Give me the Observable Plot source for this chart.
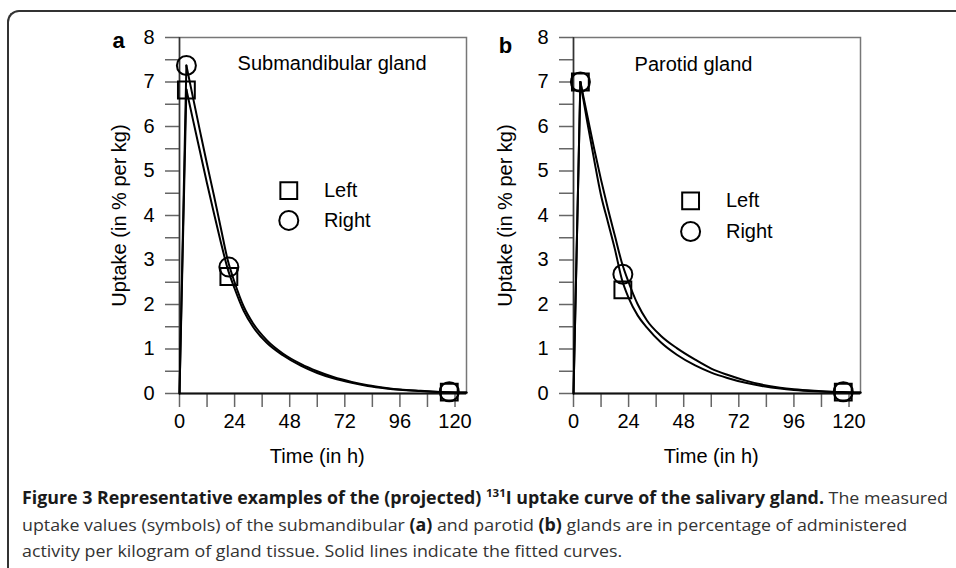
<!DOCTYPE html>
<html><head><meta charset="utf-8">
<script src="https://cdn.jsdelivr.net/npm/d3@7"></script>
<script src="https://cdn.jsdelivr.net/npm/@observablehq/plot@0.6"></script>
<style>
html,body{margin:0;padding:0;background:#fff;}
body{width:956px;height:568px;position:relative;overflow:hidden;font-family:"Liberation Sans",Arial,sans-serif;}
#frame{position:absolute;left:7px;top:10px;width:1000px;height:600px;border-top:2px solid #333;border-left:2px solid #333;border-top-left-radius:12px;}
#pa{position:absolute;left:100px;top:20px;}
#pb{position:absolute;left:480px;top:20px;}
#cap{position:absolute;left:22px;top:485px;font-family:"Open Sans",sans-serif;font-size:17px;line-height:26.5px;color:#333;white-space:nowrap;transform-origin:0 0;}
#cap b{color:#1a1a1a;font-weight:700;}
#cap sup{font-size:11px;line-height:0;vertical-align:7px;}
#cap div{display:block;width:max-content;}
</style></head><body>
<div id="frame"></div>
<div id="pa"></div><div id="pb"></div>
<div id="cap">
<div id="l1"><b>Figure 3 Representative examples of the (projected) <sup>131</sup>I uptake curve of the salivary gland.</b> The measured</div>
<div>uptake values (symbols) of the submandibular <b>(a)</b> and parotid <b>(b)</b> glands are in percentage of administered</div>
<div>activity per kilogram of gland tissue. Solid lines indicate the fitted curves.</div>
</div>
<script>
// ---- data ----
const curveTimes = [0, 3, 6, 9, 12, 15, 18, 21, 24, 28, 32, 38, 45, 53, 60, 67, 75, 82, 90, 96, 105, 110, 117, 125];
// panel a: submandibular gland fitted curves
const curveLeftA  = [0, 6.83, 6.12, 5.42, 4.72, 4.05, 3.40, 2.80, 2.36, 1.85, 1.50, 1.14, 0.86, 0.62, 0.46, 0.34, 0.24, 0.17, 0.115, 0.085, 0.055, 0.04, 0.028, 0.02];
const curveRightA = [0, 7.37, 6.62, 5.88, 5.15, 4.45, 3.72, 3.00, 2.50, 1.95, 1.58, 1.20, 0.90, 0.66, 0.50, 0.37, 0.26, 0.185, 0.125, 0.09, 0.06, 0.045, 0.03, 0.022];
// panel b: parotid gland fitted curves
const curveLeftB  = [0, 7.00, 6.10, 5.25, 4.45, 3.85, 3.25, 2.58, 2.15, 1.75, 1.48, 1.15, 0.87, 0.63, 0.47, 0.35, 0.24, 0.17, 0.11, 0.08, 0.05, 0.038, 0.028, 0.02];
const curveRightB = [0, 7.00, 6.25, 5.50, 4.80, 4.15, 3.55, 2.95, 2.50, 2.00, 1.64, 1.30, 1.02, 0.76, 0.56, 0.42, 0.29, 0.20, 0.13, 0.095, 0.06, 0.045, 0.032, 0.022];
// measured values (symbols)
const measTimes = [3, 21.5, 117.5];
const measLeftA  = [6.82, 2.63, 0.03];
const measRightA = [7.37, 2.84, 0.04];
const measLeftB  = [7.00, 2.33, 0.03];
const measRightB = [7.00, 2.68, 0.04];
// axes
const xTickValues = [0, 12, 24, 36, 48, 60, 72, 84, 96, 108, 120];
const xTickLabels = [0, 24, 48, 72, 96, 120];
const yTickValues = [0, 0.5, 1, 1.5, 2, 2.5, 3, 3.5, 4, 4.5, 5, 5.5, 6, 6.5, 7, 7.5, 8];
const yTickLabels = [0, 1, 2, 3, 4, 5, 6, 7, 8];
const seriesNames = ["Left", "Right"];
const panelTitles = ["Submandibular gland", "Parotid gland"];
const panelLetters = ["a", "b"];
const xLabel = "Time (in h)";
const yLabel = "Uptake (in % per kg)";

function rows(vals) { return curveTimes.map((t, i) => ({t, v: vals[i]})); }
function pts(vals) { return measTimes.map((t, i) => ({t, v: vals[i]})); }

function curveMarks(vals) {
  const r = rows(vals);
  return [
    Plot.line(r.filter(d => d.t <= 3), {x: "t", y: "v", stroke: "#000", strokeWidth: 2}),
    Plot.line(r.filter(d => d.t >= 3), {x: "t", y: "v", stroke: "#000", strokeWidth: 2, curve: "monotone-x"})
  ];
}

function panel(o) {
  return Plot.plot({
    width: o.width, height: 453,
    marginLeft: o.marginLeft, marginRight: 10, marginTop: 17, marginBottom: 80,
    style: {fontFamily: "'Liberation Sans', Arial, sans-serif", fontSize: "20px", color: "#000", background: "transparent", overflow: "visible"},
    x: {domain: [0, 125]},
    y: {domain: [0, 8]},
    marks: [
      Plot.frame({stroke: "#777", strokeWidth: 1.5}),
      Plot.axisX({ticks: xTickValues, tickSize: 14, tickPadding: 6, tickFormat: d => xTickLabels.includes(d) ? String(d) : "", stroke: "#666", strokeWidth: 1.5, label: null}),
      Plot.axisY({ticks: yTickValues, tickSize: 14, tickPadding: 11, tickFormat: d => yTickLabels.includes(d) ? String(d) : "", stroke: "#666", strokeWidth: 1.5, label: null}),
      Plot.ruleX([0], {stroke: "#333", strokeWidth: 1.5}),
      Plot.ruleY([0], {stroke: "#111", strokeWidth: 2}),
      ...curveMarks(o.left),
      ...curveMarks(o.right),
      Plot.dot(pts(o.measLeft), {x: "t", y: "v", symbol: "square", r: 9.5, stroke: "#000", strokeWidth: 2, fill: "none"}),
      Plot.dot(pts(o.measRight), {x: "t", y: "v", symbol: "circle", r: 9.5, stroke: "#000", strokeWidth: 2, fill: "none"}),
      // legend
      Plot.dot([seriesNames[0]], {x: o.legX, y: o.legY[0], symbol: "square", r: 9.5, stroke: "#000", strokeWidth: 2, fill: "none"}),
      Plot.dot([seriesNames[1]], {x: o.legX, y: o.legY[1], symbol: "circle", r: 9.5, stroke: "#000", strokeWidth: 2, fill: "none"}),
      Plot.text(seriesNames, {x: o.legTextX, y: (d, i) => o.legY[i], text: d => d, textAnchor: "start", lineAnchor: "middle", fill: "#000"}),
      // title inside panel
      Plot.text([o.title], {x: o.titleX, y: o.titleY, text: d => d, textAnchor: "start", lineAnchor: "middle", fill: "#000"}),
      // panel letter
      Plot.text([o.letter], {frameAnchor: "top-left", dx: o.letterDx, dy: o.letterDy, text: d => d, fontWeight: "bold", fontSize: 22, textAnchor: "middle", lineAnchor: "middle", fill: "#000"}),
      // axis titles
      Plot.text([yLabel], {frameAnchor: "left", rotate: -90, dx: o.yLabelDx, text: d => d, textAnchor: "middle", lineAnchor: "middle", fill: "#000"}),
      Plot.text([xLabel], {x: 60, frameAnchor: "bottom", dy: 63, text: d => d, textAnchor: "middle", lineAnchor: "middle", fill: "#000"})
    ]
  });
}

document.getElementById("pa").appendChild(panel({
  width: 376, marginLeft: 79,
  left: curveLeftA, right: curveRightA, measLeft: measLeftA, measRight: measRightA,
  legX: 47.6, legTextX: 62.9, legY: [4.56, 3.89],
  title: panelTitles[0], titleX: 25.3, titleY: 7.42,
  letter: panelLetters[0], letterDx: -61, letterDy: 3, yLabelDx: -59.5
}));
document.getElementById("pb").appendChild(panel({
  width: 390, marginLeft: 93,
  left: curveLeftB, right: curveRightB, measLeft: measLeftB, measRight: measRightB,
  legX: 51, legTextX: 66.4, legY: [4.33, 3.64],
  title: panelTitles[1], titleX: 26.6, titleY: 7.38,
  letter: panelLetters[1], letterDx: -68, letterDy: 8, yLabelDx: -67.5
}));

// fit caption width to the reference's first line (condensed face)
const cap = document.getElementById("cap");
const w1 = document.getElementById("l1").getBoundingClientRect().width;
cap.style.transform = "scaleX(" + (926 / w1) + ")";
</script>
</body></html>
